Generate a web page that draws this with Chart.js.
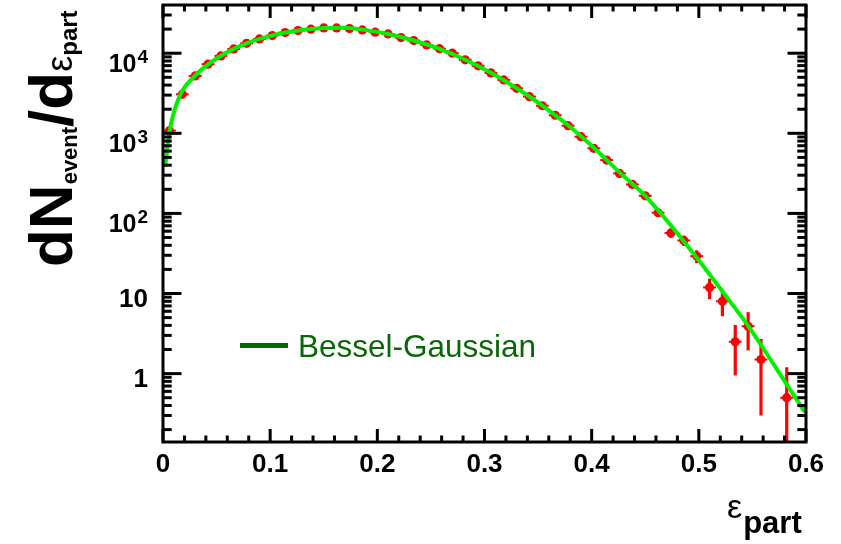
<!DOCTYPE html>
<html>
<head>
<meta charset="utf-8">
<script src="https://cdn.jsdelivr.net/npm/chart.js@4/dist/chart.umd.min.js"></script>
<style>
  html, body { margin: 0; padding: 0; background: #fff; }
  #wrap { width: 841px; height: 544px; }
</style>
</head>
<body>
<div id="wrap"><canvas id="eccChart" width="841" height="544"></canvas></div>
<script>
// histogram of eps_part, 0.012 wide bins
const binCenters = [
  0.006, 0.018, 0.030, 0.042, 0.054, 0.066, 0.078, 0.090, 0.102, 0.114,
  0.126, 0.138, 0.150, 0.162, 0.174, 0.186, 0.198, 0.210, 0.222, 0.234,
  0.246, 0.258, 0.270, 0.282, 0.294, 0.306, 0.318, 0.330, 0.342, 0.354,
  0.366, 0.378, 0.390, 0.402, 0.414, 0.426, 0.438, 0.450, 0.462, 0.474,
  0.486, 0.498, 0.510, 0.522, 0.534, 0.546, 0.558, 0.570, 0.582, 0.594
];
const counts = [
  1080, 3070, 5200, 7290, 9250, 11300, 13300, 15100, 16600, 18100,
  19200, 19950, 20700, 20700, 20300, 19550, 18300, 17400, 15700, 14400,
  12700, 11400, 10000, 8280, 6960, 5670, 4640, 3650, 2870, 2210,
  1680, 1245, 907, 649, 464, 316, 230, 166, 102, 57,
  46, 29.3, 11.9, 8.0, 2.5, 3.9, 1.5, null, 0.5, null
];
const countErrors = [
  33, 55, 72, 85, 96, 106, 115, 123, 129, 135,
  139, 141, 144, 144, 142, 140, 135, 132, 125, 120,
  113, 107, 100, 91, 83, 75, 68, 60, 54, 47,
  41, 35, 30, 25, 22, 18, 15, 13, 10, 7.5,
  6.8, 5.4, 3.4, 2.8, 1.55, 1.95, 1.2, null, 0.7, null
];
const binHalfWidth = 0.006;

// Bessel-Gaussian fit curve
const fitX = [0.002, 0.006, 0.014, 0.030, 0.054, 0.078, 0.102, 0.126, 0.150, 0.168,
  0.186, 0.210, 0.234, 0.258, 0.282, 0.306, 0.330, 0.354, 0.378, 0.402,
  0.426, 0.450, 0.4913, 0.5223, 0.5457, 0.5582, 0.5815, 0.599];
const fitY = [380, 1030, 2610, 5250, 9300, 13300, 16700, 19200, 20600, 20800,
  19700, 17400, 14400, 11300, 8300, 5700, 3650, 2220, 1260, 660,
  325, 165, 36.5, 10.5, 4.0, 2.26, 0.75, 0.33];

const xTickValues = [0, 0.1, 0.2, 0.3, 0.4, 0.5, 0.6];
const xTickLabels = ['0', '0.1', '0.2', '0.3', '0.4', '0.5', '0.6'];
const yTickValues = [1, 10, 100, 1000, 10000];
const yTickBase = ['1', '10', '10', '10', '10'];
const yTickExp = ['', '', '2', '3', '4'];

const FONT = '"Liberation Sans", Arial, Helvetica, sans-serif';

function strokeLine(ctx, x1, y1, x2, y2) {
  ctx.beginPath();
  ctx.moveTo(x1, y1);
  ctx.lineTo(x2, y2);
  ctx.stroke();
}

// text runs with sub/superscripts along one baseline
function drawRich(ctx, x, y, angle, parts) {
  ctx.save();
  ctx.translate(x, y);
  ctx.rotate(angle);
  ctx.textAlign = 'left';
  ctx.textBaseline = 'alphabetic';
  let cx = 0;
  for (const p of parts) {
    ctx.font = p.font;
    cx += p.gap || 0;
    ctx.fillText(p.text, cx, p.dy || 0);
    cx += ctx.measureText(p.text).width;
  }
  ctx.restore();
}

const rootFrame = {
  id: 'rootFrame',
  beforeDatasetsDraw(chart) {
    const { ctx, chartArea: a, scales: { x, y } } = chart;
    ctx.save();
    ctx.beginPath();
    ctx.rect(a.left, a.top, a.right - a.left, a.bottom - a.top);
    ctx.clip();
    ctx.strokeStyle = '#ff0000';
    binCenters.forEach((bc, i) => {
      const v = counts[i];
      if (v === null) return;
      const e = countErrors[i];
      const px = x.getPixelForValue(bc);
      const py = y.getPixelForValue(v);
      const top = y.getPixelForValue(v + e);
      const bottom = v - e > 0 ? y.getPixelForValue(v - e) : a.bottom;
      ctx.lineWidth = 3.2;
      strokeLine(ctx, px, top, px, bottom);
      ctx.lineWidth = 2;
      strokeLine(ctx, x.getPixelForValue(bc - binHalfWidth), py, x.getPixelForValue(bc + binHalfWidth), py);
    });
    ctx.restore();
  },
  afterDatasetsDraw(chart) {
    const { ctx, chartArea: a, scales: { x, y } } = chart;
    ctx.save();
    ctx.strokeStyle = '#000';
    ctx.fillStyle = '#000';
    ctx.lineWidth = 3;
    ctx.strokeRect(a.left, a.top, a.right - a.left, a.bottom - a.top);

    // x ticks, bottom and top
    for (let i = 0; i <= 30; i++) {
      const px = x.getPixelForValue(i * 0.02);
      const len = i % 5 === 0 ? 13 : 6.5;
      strokeLine(ctx, px, a.bottom, px, a.bottom - len);
      strokeLine(ctx, px, a.top, px, a.top + len);
    }
    // y ticks, left and right
    for (const d of [0.1, 1, 10, 100, 1000, 10000]) {
      for (let m = 1; m <= 9; m++) {
        const v = m * d;
        if (v <= y.min || v >= y.max) continue;
        const py = y.getPixelForValue(v);
        const len = m === 1 ? 18.5 : 8.7;
        strokeLine(ctx, a.left, py, a.left + len, py);
        strokeLine(ctx, a.right, py, a.right - len, py);
      }
    }

    // x tick labels
    ctx.font = 'bold 26px ' + FONT;
    ctx.textAlign = 'center';
    ctx.textBaseline = 'alphabetic';
    xTickValues.forEach((v, i) => {
      ctx.fillText(xTickLabels[i], x.getPixelForValue(v), 472);
    });

    // y tick labels
    ctx.textAlign = 'right';
    yTickValues.forEach((v, i) => {
      const py = y.getPixelForValue(v);
      const right = a.left - 15;
      if (yTickExp[i]) {
        ctx.font = 'bold 19px ' + FONT;
        const ew = ctx.measureText(yTickExp[i]).width;
        ctx.fillText(yTickExp[i], right, py + 9.7);
        ctx.font = 'bold 25px ' + FONT;
        ctx.fillText(yTickBase[i], right - ew - 1, py + 18.7);
      } else {
        ctx.font = 'bold 26px ' + FONT;
        ctx.fillText(yTickBase[i], right, py + 13.5);
      }
    });

    // axis titles
    drawRich(ctx, 72, 267, -Math.PI / 2, [
      { text: 'dN', font: 'bold 62px ' + FONT },
      { text: 'event', font: 'bold 22px ' + FONT, dy: 5 },
      { text: '/d', font: 'bold 62px ' + FONT },
      { text: 'ε', font: '36px ' + FONT },
      { text: 'part', font: 'bold 24px ' + FONT, dy: 5 }
    ]);
    drawRich(ctx, 727, 518, 0, [
      { text: 'ε', font: '34px ' + FONT },
      { text: 'part', font: 'bold 31px ' + FONT, dy: 15, gap: 1 }
    ]);

    // legend entry
    ctx.strokeStyle = '#086808';
    ctx.lineWidth = 5;
    strokeLine(ctx, 240, 345.5, 288, 345.5);
    ctx.fillStyle = '#086808';
    ctx.font = '31.5px ' + FONT;
    ctx.textAlign = 'left';
    ctx.fillText('Bessel-Gaussian', 298, 357);
    ctx.restore();
  }
};

new Chart(document.getElementById('eccChart'), {
  type: 'scatter',
  data: {
    datasets: [
      {
        label: 'Bessel-Gaussian',
        type: 'line',
        data: fitX.map((v, i) => ({ x: v, y: fitY[i] })),
        borderColor: '#00f000',
        borderWidth: 4,
        pointRadius: 0,
        cubicInterpolationMode: 'monotone',
        fill: false
      },
      {
        label: 'events',
        data: binCenters.map((v, i) => ({ x: v, y: counts[i] })).filter(p => p.y !== null),
        backgroundColor: '#ff0000',
        borderWidth: 0,
        pointRadius: 4.6
      }
    ]
  },
  options: {
    responsive: false,
    animation: false,
    devicePixelRatio: 1,
    layout: { padding: { left: 163, right: 35, top: 5, bottom: 102 } },
    plugins: { legend: { display: false }, tooltip: { enabled: false } },
    scales: {
      x: {
        type: 'linear', min: 0, max: 0.6,
        grid: { display: false }, border: { display: false },
        ticks: { display: false },
        afterFit(s) { s.height = 0; }
      },
      y: {
        type: 'logarithmic', min: 0.14, max: 40000,
        grid: { display: false }, border: { display: false },
        ticks: { display: false },
        afterFit(s) { s.width = 0; }
      }
    }
  },
  plugins: [rootFrame]
});
</script>
</body>
</html>
